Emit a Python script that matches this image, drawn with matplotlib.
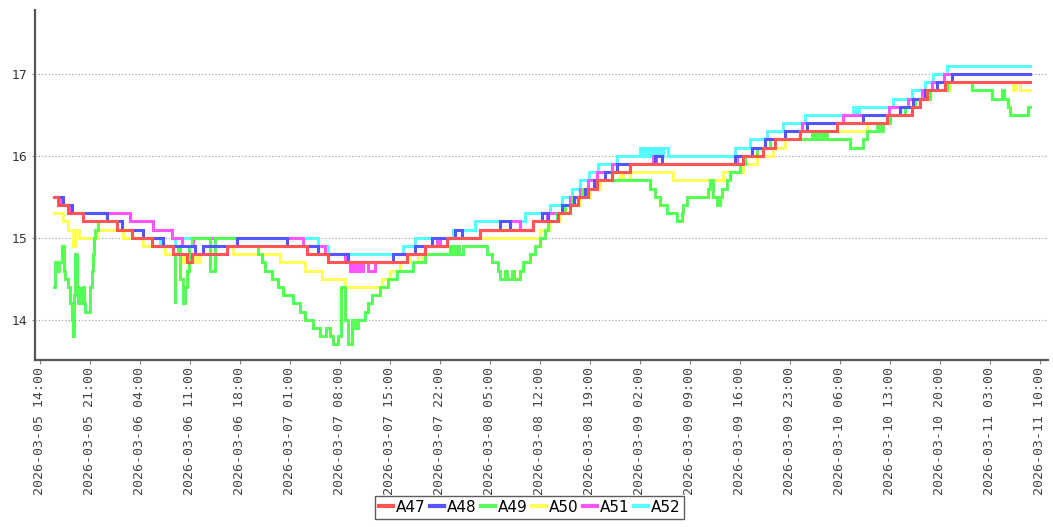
import matplotlib
matplotlib.use("Agg")
import matplotlib.pyplot as plt
import matplotlib.dates as mdates
import numpy as np
import pandas as pd

START = pd.Timestamp("2026-03-05 14:00")

# (hours since START, value) change points of each step series
A47 = [(2.0,15.5),(2.5,15.4),(3.9,15.3),(6.0,15.2),(10.8,15.1),(12.9,15.0),(15.7,14.9),(18.6,14.8),
       (20.6,14.7),(21.3,14.8),(26.2,14.9),(37.4,14.8),(40.3,14.7),(51.4,14.8),(53.9,14.9),(57.0,15.0),
       (61.6,15.1),(69.0,15.2),(72.5,15.3),(74.2,15.4),(75.3,15.5),(76.7,15.6),(78.0,15.7),(80.1,15.8),
       (82.6,15.9),(98.4,16.0),(101.2,16.1),(102.9,16.2),(106.4,16.3),(111.6,16.4),(118.6,16.5),
       (122.1,16.6),(123.2,16.7),(124.2,16.8),(126.7,16.9),(138.6,16.9)]
A48 = [(2.5,15.5),(3.2,15.4),(4.5,15.3),(9.4,15.2),(11.5,15.1),(14.4,15.0),(17.2,14.9),(21.7,14.8),
       (22.8,14.9),(27.6,15.0),(34.6,14.9),(38.9,14.8),(43.1,14.7),(49.4,14.8),(52.5,14.9),(54.9,15.0),
       (58.1,15.1),(59.1,15.0),(61.6,15.1),(64.4,15.2),(65.8,15.1),(69.0,15.2),(70.3,15.3),(71.1,15.2),
       (72.5,15.3),(73.1,15.4),(74.8,15.5),(76.3,15.6),(77.6,15.7),(79.1,15.8),(80.8,15.9),(86.1,16.0),
       (87.1,15.9),(97.3,16.0),(99.7,16.1),(101.5,16.2),(104.3,16.3),(107.4,16.4),(115.2,16.5),
       (120.4,16.6),(122.2,16.7),(123.9,16.8),(125.6,16.9),(127.7,17.0),(138.6,17.0)]
A49 = [(2.0,14.4),(2.1,14.7),(2.4,14.6),(2.7,14.7),(3.1,14.9),(3.4,14.6),(3.6,14.5),(3.9,14.4),(4.2,14.2),
       (4.5,14.0),(4.6,13.8),(4.8,14.3),(4.9,14.8),(5.2,14.4),(5.3,14.2),(5.6,14.4),(5.7,14.2),(6.0,14.4),
       (6.2,14.2),(6.4,14.1),(7.0,14.2),(7.1,14.4),(7.3,14.6),(7.4,14.8),(7.6,15.0),(7.8,15.1),(8.1,15.2),
       (10.8,15.1),(12.9,15.0),(15.7,14.9),(18.6,14.8),(18.9,14.2),(19.0,14.8),(19.3,14.9),(19.7,14.5),
       (20.0,14.2),(20.3,14.4),(20.6,14.6),(20.9,14.9),(21.3,15.0),(23.9,14.6),(24.5,15.0),(27.6,14.9),
       (30.5,14.8),(31.1,14.7),(31.5,14.6),(32.5,14.5),(33.3,14.4),(34.0,14.3),(35.4,14.2),(36.4,14.1),
       (37.2,14.0),(38.2,13.9),(39.2,13.8),(40.0,13.9),(40.6,13.8),(41.0,13.7),(41.7,13.8),(42.1,14.4),
       (42.7,14.0),(43.1,13.7),(43.7,14.0),(44.1,13.9),(44.5,14.0),(45.5,14.1),(45.9,14.2),(46.5,14.3),
       (47.6,14.4),(48.7,14.5),(50.0,14.6),(52.2,14.7),(53.9,14.8),(57.4,14.9),(57.8,14.8),(58.2,14.9),
       (58.7,14.8),(59.2,14.9),(62.6,14.8),(63.3,14.7),(64.1,14.6),(64.4,14.5),(65.1,14.6),(65.4,14.5),
       (66.1,14.6),(66.4,14.5),(67.2,14.6),(67.6,14.7),(68.6,14.8),(69.3,14.9),(70.0,15.0),(70.7,15.1),
       (71.1,15.2),(72.4,15.3),(73.5,15.4),(74.5,15.5),(75.9,15.6),(78.0,15.7),(85.4,15.6),(86.1,15.5),
       (86.8,15.4),(87.8,15.3),(89.2,15.2),(89.9,15.3),(90.0,15.4),(90.6,15.5),(93.5,15.6),(93.8,15.7),
       (94.2,15.5),(94.8,15.4),(95.2,15.5),(95.5,15.6),(96.2,15.7),(96.6,15.8),(98.0,15.9),(98.7,16.0),
       (100.4,16.1),(102.2,16.2),(108.1,16.3),(108.5,16.2),(109.0,16.3),(109.4,16.2),(109.8,16.3),
       (110.2,16.2),(113.4,16.1),(115.2,16.2),(115.8,16.3),(117.2,16.4),(117.6,16.3),(118.0,16.4),
       (119.0,16.5),(121.1,16.6),(122.5,16.7),(124.6,16.8),(127.0,16.9),(130.5,16.8),(133.3,16.7),
       (134.7,16.8),(135.0,16.7),(135.5,16.6),(135.8,16.5),(138.3,16.6),(138.6,16.6)]
A50 = [(2.0,15.3),(3.2,15.2),(3.9,15.1),(4.6,14.9),(5.0,15.1),(5.5,15.0),(8.0,15.1),(11.6,15.0),(14.4,14.9),
       (17.5,14.8),(19.9,14.7),(20.4,14.8),(20.9,14.7),(21.4,14.8),(22.0,14.7),(22.4,14.8),(26.2,14.9),
       (27.0,14.8),(33.6,14.7),(37.1,14.6),(39.5,14.5),(42.7,14.4),(47.9,14.5),(49.0,14.6),(50.4,14.7),
       (51.8,14.8),(52.9,14.7),(53.5,14.8),(53.9,14.9),(57.0,15.0),(70.0,15.1),(71.4,15.2),(72.8,15.3),
       (74.2,15.4),(75.6,15.5),(77.0,15.6),(78.4,15.7),(81.2,15.8),(81.6,15.7),(82.6,15.8),(88.6,15.7),
       (95.6,15.8),(98.4,15.9),(100.4,16.0),(102.6,16.1),(104.3,16.2),(106.4,16.3),(115.8,16.4),
       (119.0,16.5),(121.1,16.6),(122.5,16.7),(124.6,16.8),(127.4,16.9),(136.2,16.8),(136.7,16.9),
       (137.2,16.8),(138.6,16.8)]
A51 = [(2.1,15.5),(2.8,15.4),(4.2,15.3),(12.6,15.2),(15.8,15.1),(18.5,15.0),(19.9,14.9),(21.4,15.0),
       (36.8,14.9),(39.9,14.8),(42.7,14.7),(43.4,14.6),(43.8,14.7),(44.1,14.6),(44.5,14.7),(44.8,14.6),
       (45.2,14.7),(45.9,14.6),(46.9,14.7),(51.4,14.8),(53.9,14.9),(55.6,15.0),(56.0,14.9),(57.0,15.0),
       (61.6,15.1),(65.8,15.2),(67.2,15.1),(69.0,15.2),(71.0,15.3),(73.1,15.4),(74.2,15.5),(75.6,15.6),
       (76.7,15.7),(78.0,15.8),(80.1,15.9),(85.8,16.0),(86.2,15.9),(97.6,16.0),(99.7,16.1),(101.5,16.2),
       (104.3,16.3),(106.7,16.4),(112.4,16.5),(118.9,16.6),(121.5,16.7),(123.5,16.8),(124.9,16.9),
       (126.6,17.0),(138.6,17.0)]
A52 = [(2.1,15.5),(2.8,15.4),(4.2,15.3),(9.4,15.2),(11.5,15.1),(14.4,15.0),(16.8,14.9),(18.9,15.0),
       (38.9,14.9),(40.3,14.8),(50.8,14.9),(52.5,15.0),(57.8,15.1),(60.9,15.2),(67.9,15.3),(71.4,15.4),
       (73.1,15.5),(74.5,15.6),(75.6,15.7),(76.9,15.8),(78.1,15.9),(80.8,16.0),(84.0,16.1),(84.4,16.0),
       (84.8,16.1),(85.2,16.0),(85.6,16.1),(86.0,16.0),(86.4,16.1),(86.8,16.0),(87.2,16.1),(87.9,16.0),
       (97.3,16.1),(99.4,16.2),(101.8,16.3),(104.0,16.4),(107.1,16.5),(113.8,16.6),(114.2,16.5),
       (114.7,16.6),(119.4,16.7),(122.1,16.8),(123.9,16.9),(125.0,17.0),(127.0,17.1),(138.6,17.1)]

SERIES = ["A47", "A48", "A49", "A50", "A51", "A52"]
DATA = [A47, A48, A49, A50, A51, A52]
COLORS = ["#FF5555", "#5555FF", "#55FF55", "#FFFF55", "#FF55FF", "#55FFFF"]

fig = plt.figure(figsize=(10.53, 5.27), dpi=100)
ax = fig.add_axes([0.033, 0.317, 0.962, 0.664])

n = len(SERIES)
for i, (name, pts, col) in enumerate(zip(SERIES, DATA, COLORS)):
    hrs = np.array([p[0] for p in pts])
    vals = np.array([p[1] for p in pts])
    t = START + pd.to_timedelta(hrs, unit="h")
    ax.plot(t.to_pydatetime(), vals, drawstyle="steps-post", color=col, lw=2.2,
            label=name, zorder=10 + (n - i), solid_joinstyle="miter")

ax.set_ylim(13.51, 17.78)
ax.set_xlim(START - pd.Timedelta(hours=0.7), START + pd.Timedelta(hours=141.1))
ax.set_yticks([14, 15, 16, 17])
ticks = [START + pd.Timedelta(hours=7 * k) for k in range(21)]
ax.set_xticks([mdates.date2num(t.to_pydatetime()) for t in ticks])
ax.xaxis.set_major_formatter(mdates.DateFormatter("%Y-%m-%d %H:%M"))
for lab in ax.get_xticklabels():
    lab.set_rotation(90)
    lab.set_fontfamily("DejaVu Sans Mono")
    lab.set_fontsize(9.5)
    lab.set_color("#444444")
for lab in ax.get_yticklabels():
    lab.set_fontsize(9)
    lab.set_color("#333333")

ax.grid(axis="y", color="#999999", linestyle=(0, (1, 2)), linewidth=0.8)
ax.grid(axis="x", visible=False)
for s in ["top", "right"]:
    ax.spines[s].set_visible(False)
for s in ["left", "bottom"]:
    ax.spines[s].set_color("#555555")
    ax.spines[s].set_linewidth(1.6)
ax.tick_params(axis="x", length=3, color="#888888", pad=2)
ax.tick_params(axis="y", length=2, color="#888888", pad=3)

leg = fig.legend(loc="upper center", bbox_to_anchor=(0.503, 0.059), ncol=6, frameon=True,
                 fancybox=False, fontsize=11, handlelength=0.9, handletextpad=0.2,
                 columnspacing=0.3, borderpad=0.25, borderaxespad=0)
leg.get_frame().set_edgecolor("#333333")
leg.get_frame().set_linewidth(1.0)
for h in leg.get_lines():
    h.set_linewidth(3)

fig.savefig("out.png", dpi=100)
